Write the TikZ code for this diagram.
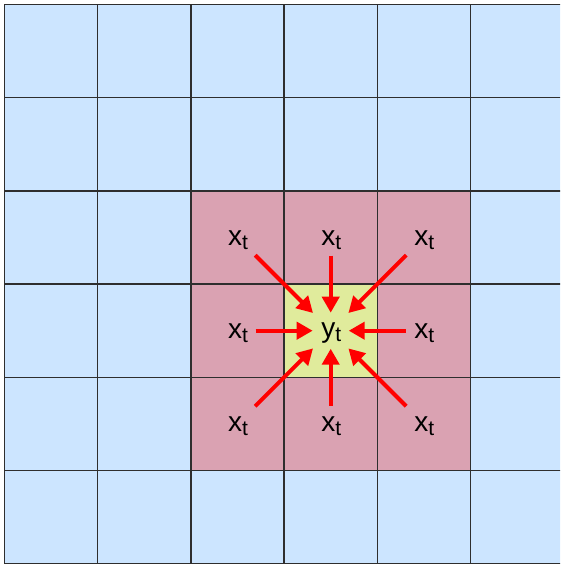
\documentclass[tikz,border=0pt]{standalone}
\usepackage{fontspec}
\setmainfont{Liberation Sans}
\usetikzlibrary{arrows.meta}
\definecolor{cellblue}{HTML}{CCE5FF}
\definecolor{cellpink}{HTML}{DAA2B2}
\definecolor{cellgreen}{HTML}{E0EB9C}
\definecolor{gridline}{HTML}{2E2E2E}
\newcommand{\labx}{x{\fontsize{21}{21}\selectfont\raisebox{-4pt}{t}}}
\newcommand{\laby}{y{\fontsize{21}{21}\selectfont\raisebox{-4pt}{t}}}
\tikzset{
  lbl/.style={inner sep=0pt, font=\fontsize{28}{28}\selectfont},
  ortho/.style={draw=red, line width=4pt, -{Triangle[length=16pt,width=17pt]}, shorten <=18pt, shorten >=18pt},
  diag/.style={draw=red, line width=4pt, -{Triangle[length=16pt,width=17pt]}, shorten <=25pt, shorten >=25pt},
  gridstyle/.style={draw=gridline, line width=1.4pt}
}
\begin{document}
\begin{tikzpicture}[x=1pt,y=-1pt]
\useasboundingbox (0,0) rectangle (560,567);
\clip (0,0) rectangle (560,567);
\fill[white] (0,0) rectangle (560,567);
% backgrounds
\fill[cellblue] (4.5,4.5) rectangle (580,563.7);
\fill[cellpink] (190.9,190.9) rectangle (470.5,470.5);
\fill[cellgreen] (284.1,284.1) rectangle (377.3,377.3);
% grid
\foreach \k in {0,...,5} {
  \draw[gridstyle] ({4.5+93.2*\k},4.5) -- ({4.5+93.2*\k},563.7);
}
\foreach \k in {0,...,6} {
  \draw[gridstyle] (4.5,{4.5+93.2*\k}) -- (580,{4.5+93.2*\k});
}
% labels
\node[lbl] (c) at (331.2,333.2) {\laby};
\node[lbl] (nw) at (238,240) {\labx};
\node[lbl] (n) at (331.2,240) {\labx};
\node[lbl] (ne) at (424.4,240) {\labx};
\node[lbl] (w) at (238,333.2) {\labx};
\node[lbl] (e) at (424.4,333.2) {\labx};
\node[lbl] (sw) at (238,426.4) {\labx};
\node[lbl] (s) at (331.2,426.4) {\labx};
\node[lbl] (se) at (424.4,426.4) {\labx};
% arrow anchor points (cell centres)
\coordinate (cc) at (330.7,330.7);
\coordinate (pnw) at (237.5,237.5);
\coordinate (pn) at (330.7,237.5);
\coordinate (pne) at (423.9,237.5);
\coordinate (pw) at (237.5,330.7);
\coordinate (pe) at (423.9,330.7);
\coordinate (psw) at (237.5,423.9);
\coordinate (ps) at (330.7,423.9);
\coordinate (pse) at (423.9,423.9);
% arrows
\draw[diag] (pnw) -- (cc);
\draw[ortho] (pn) -- (cc);
\draw[diag] (pne) -- (cc);
\draw[ortho] (pw) -- (cc);
\draw[ortho] (pe) -- (cc);
\draw[diag] (psw) -- (cc);
\draw[ortho] (ps) -- (cc);
\draw[diag] (pse) -- (cc);
\end{tikzpicture}
\end{document}
